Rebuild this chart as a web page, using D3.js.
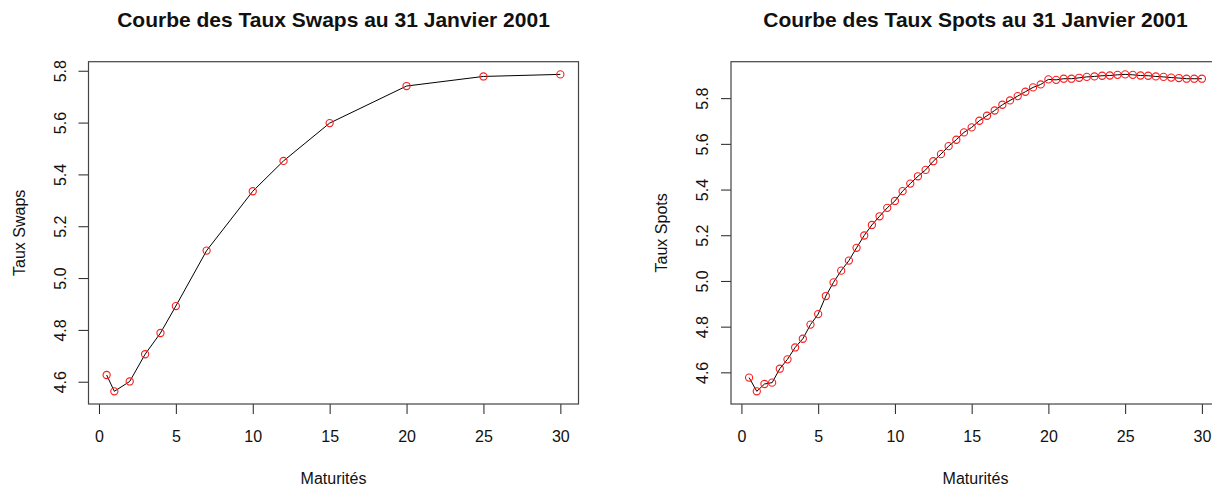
<!DOCTYPE html>
<html>
<head>
<meta charset="utf-8">
<script src="https://cdn.jsdelivr.net/npm/d3@7"></script>
<style>
  html, body { margin: 0; padding: 0; background: #fff; }
  svg { display: block; }
  text { font-family: "Liberation Sans", Arial, sans-serif; fill: #111; }
</style>
</head>
<body>
<svg id="chart" width="1212" height="486"></svg>
<script>
// Swap rates by maturity (years), 31 January 2001
const swapMaturities = [0.5, 1, 2, 3, 4, 5, 7, 10, 12, 15, 20, 25, 30];
const swapRates = [4.626, 4.563, 4.601, 4.706, 4.788, 4.892, 5.106, 5.335, 5.452, 5.598, 5.741, 5.778, 5.786];

// Bootstrapped spot rates, half-year steps from 0.5 to 30 years
const spotMaturities = d3.range(1, 61).map(i => i / 2);
const spotRates = [
  4.577, 4.517, 4.549, 4.555, 4.616, 4.657, 4.709, 4.747, 4.809, 4.855,
  4.934, 4.994, 5.045, 5.089, 5.145, 5.199, 5.245, 5.283, 5.320, 5.350,
  5.393, 5.426, 5.458, 5.486, 5.524, 5.555, 5.590, 5.618, 5.650, 5.672,
  5.701, 5.723, 5.746, 5.771, 5.790, 5.809, 5.828, 5.847, 5.860, 5.882,
  5.880, 5.885, 5.885, 5.889, 5.893, 5.895, 5.898, 5.899, 5.902, 5.904,
  5.902, 5.899, 5.898, 5.895, 5.893, 5.890, 5.888, 5.885, 5.885, 5.885
];

const xTicks = [0, 5, 10, 15, 20, 25, 30];
const yTicks = [4.6, 4.8, 5.0, 5.2, 5.4, 5.6, 5.8];

const panels = [
  { title: "Courbe des Taux Swaps au 31 Janvier 2001", ylab: "Taux Swaps",
    xs: swapMaturities, ys: swapRates, left: 88.5, right: 578.5 },
  { title: "Courbe des Taux Spots au 31 Janvier 2001", ylab: "Taux Spots",
    xs: spotMaturities, ys: spotRates, left: 731, right: 1220 }
];

const plotTop = 61.7, plotBottom = 404;
const svg = d3.select("#chart");

// R-style axis range: data extent padded by 4% on each side
function padded(values) {
  const [lo, hi] = d3.extent(values);
  const pad = (hi - lo) * 0.04;
  return [lo - pad, hi + pad];
}

panels.forEach(p => {
  const x = d3.scaleLinear().domain(padded(p.xs)).range([p.left, p.right]);
  const y = d3.scaleLinear().domain(padded(p.ys)).range([plotBottom, plotTop]);
  const g = svg.append("g");

  // x axis
  const xa = g.append("g")
    .attr("transform", `translate(0,${plotBottom})`)
    .call(d3.axisBottom(x).tickValues(xTicks).tickSize(10).tickSizeOuter(0).tickFormat(d3.format("d")));
  xa.select(".domain").remove();
  xa.selectAll(".tick line").attr("stroke", "#222");
  xa.selectAll(".tick text")
    .attr("y", 38).attr("dy", 0)
    .style("font-size", "16px");

  // y axis with labels turned to read upward
  const ya = g.append("g")
    .attr("transform", `translate(${p.left},0)`)
    .call(d3.axisLeft(y).tickValues(yTicks).tickSize(10).tickSizeOuter(0).tickFormat(d3.format(".1f")));
  ya.select(".domain").remove();
  ya.selectAll(".tick line").attr("stroke", "#222");
  ya.selectAll(".tick text")
    .attr("x", 0).attr("y", -23).attr("dy", 0)
    .attr("text-anchor", "middle")
    .attr("transform", "rotate(-90)")
    .style("font-size", "16px");

  // plot frame
  g.append("rect")
    .attr("x", p.left).attr("y", plotTop)
    .attr("width", p.right - p.left).attr("height", plotBottom - plotTop)
    .attr("fill", "none").attr("stroke", "#444").attr("stroke-width", 1.2);

  // curve and markers
  const pts = p.xs.map((d, i) => [d, p.ys[i]]);
  g.append("path")
    .datum(pts)
    .attr("fill", "none").attr("stroke", "#000").attr("stroke-width", 1)
    .attr("d", d3.line().x(d => x(d[0])).y(d => y(d[1])));
  g.selectAll("circle")
    .data(pts).enter().append("circle")
    .attr("cx", d => x(d[0])).attr("cy", d => y(d[1]))
    .attr("r", 3.6)
    .attr("fill", "none").attr("stroke", "#ff1a1a").attr("stroke-width", 1.1);

  // titles
  const cx = (p.left + p.right) / 2;
  g.append("text")
    .attr("x", cx).attr("y", 27)
    .attr("text-anchor", "middle")
    .style("font-size", "21px").style("font-weight", "bold")
    .text(p.title);
  g.append("text")
    .attr("x", cx).attr("y", 484)
    .attr("text-anchor", "middle")
    .style("font-size", "16px")
    .text("Maturités");
  g.append("text")
    .attr("transform", `translate(${p.left - 64},${(plotTop + plotBottom) / 2}) rotate(-90)`)
    .attr("text-anchor", "middle")
    .style("font-size", "16px")
    .text(p.ylab);
});
</script>
</body>
</html>
